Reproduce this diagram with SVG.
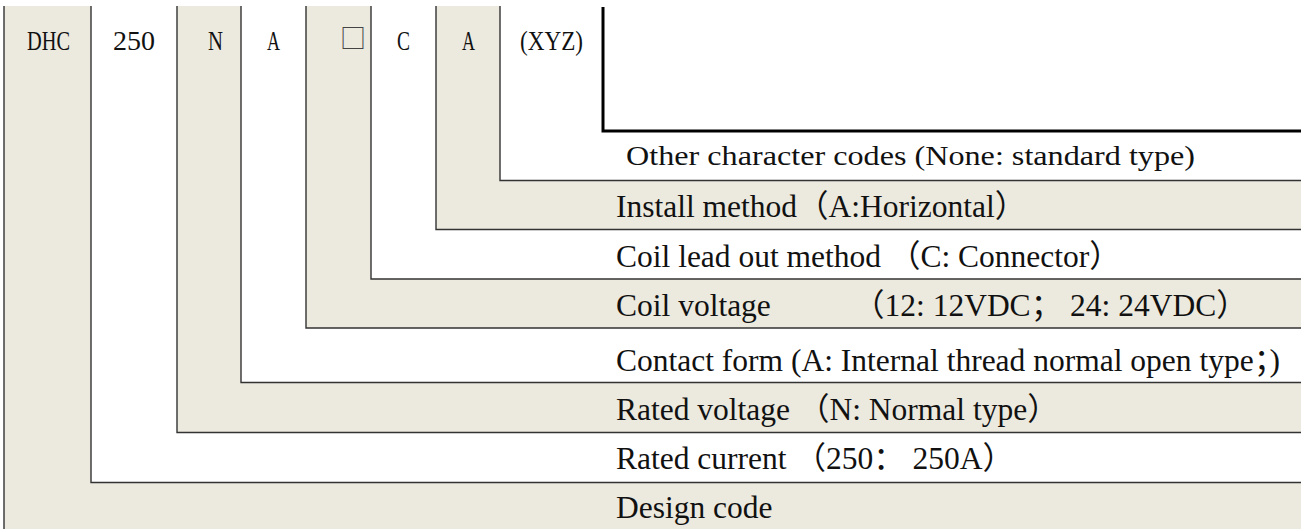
<svg xmlns="http://www.w3.org/2000/svg" width="1301" height="529" viewBox="0 0 1301 529">
<style>
.bg{fill:#ECE9DF;stroke:none}
.ln{fill:none;stroke:#333;stroke-width:1.4}
.blk{fill:none;stroke:#000;stroke-width:3}
.code{font-family:"Liberation Serif","Noto Sans CJK SC",serif;font-size:28px;fill:#111}
.lbl{font-family:"Liberation Serif","Noto Sans CJK SC",serif;font-size:31.5px;fill:#111}
.nar{font-family:"Liberation Serif","Noto Sans CJK SC",serif;font-size:27px;fill:#111}
</style>
<rect width="1301" height="529" fill="#fff"/>
<g id="design-code">
<path class="bg" d="M4,6 H91 V482.5 H1301 V529 H4 Z"/>
<text class="code" x="27" y="50" textLength="43" lengthAdjust="spacingAndGlyphs">DHC</text>
<text class="lbl" x="616" y="518">Design code</text>
</g>
<g id="rated-current">
<text class="code" x="113" y="50" textLength="42" lengthAdjust="spacingAndGlyphs">250</text>
<text class="lbl" x="616" y="469">Rated current （250： 250A）</text>
</g>
<g id="rated-voltage">
<path class="bg" d="M177,6 H241 V382.5 H1301 V432.5 H177 Z"/>
<text class="code" x="208" y="50" textLength="15" lengthAdjust="spacingAndGlyphs">N</text>
<text class="lbl" x="616" y="420">Rated voltage （N: Normal type）</text>
</g>
<g id="contact-form">
<text class="code" x="267" y="50" textLength="13" lengthAdjust="spacingAndGlyphs">A</text>
<text class="lbl" x="616" y="371">Contact form (A: Internal thread normal open type；)</text>
</g>
<g id="coil-voltage">
<path class="bg" d="M306,6 H371 V279 H1301 V328 H306 Z"/>
<text x="340" y="48" style="font-family:'Noto Sans CJK SC',sans-serif;font-size:26px;fill:#444">□</text>
<text class="lbl" x="616" y="316">Coil voltage<tspan x="853">（12: 12VDC； 24: 24VDC）</tspan></text>
</g>
<g id="coil-lead-out">
<text class="code" x="397" y="50" textLength="13" lengthAdjust="spacingAndGlyphs">C</text>
<text class="lbl" x="616" y="267">Coil lead out method （C: Connector）</text>
</g>
<g id="install-method">
<path class="bg" d="M436,6 H500 V180.5 H1301 V229.5 H436 Z"/>
<text class="code" x="462" y="50" textLength="13" lengthAdjust="spacingAndGlyphs">A</text>
<text class="lbl" x="616" y="217">Install method（A:Horizontal）</text>
</g>
<g id="other-codes">
<text class="code" x="520" y="50" textLength="63" lengthAdjust="spacingAndGlyphs">(XYZ)</text>
<text class="nar" x="626" y="165" textLength="569" lengthAdjust="spacingAndGlyphs">Other character codes (None: standard type)</text>
</g>
<g id="connectors">
<path class="ln" d="M4,6 V529"/>
<path class="ln" d="M91,6 V482.5 H1301"/>
<path class="ln" d="M177,6 V432.5 H1301"/>
<path class="ln" d="M241,6 V382.5 H1301"/>
<path class="ln" d="M306,6 V328 H1301"/>
<path class="ln" d="M371,6 V279 H1301"/>
<path class="ln" d="M436,6 V229.5 H1301"/>
<path class="ln" d="M500,6 V180.5 H1301"/>
<path class="blk" d="M603,7 V131 H1301"/>
</g>
</svg>
